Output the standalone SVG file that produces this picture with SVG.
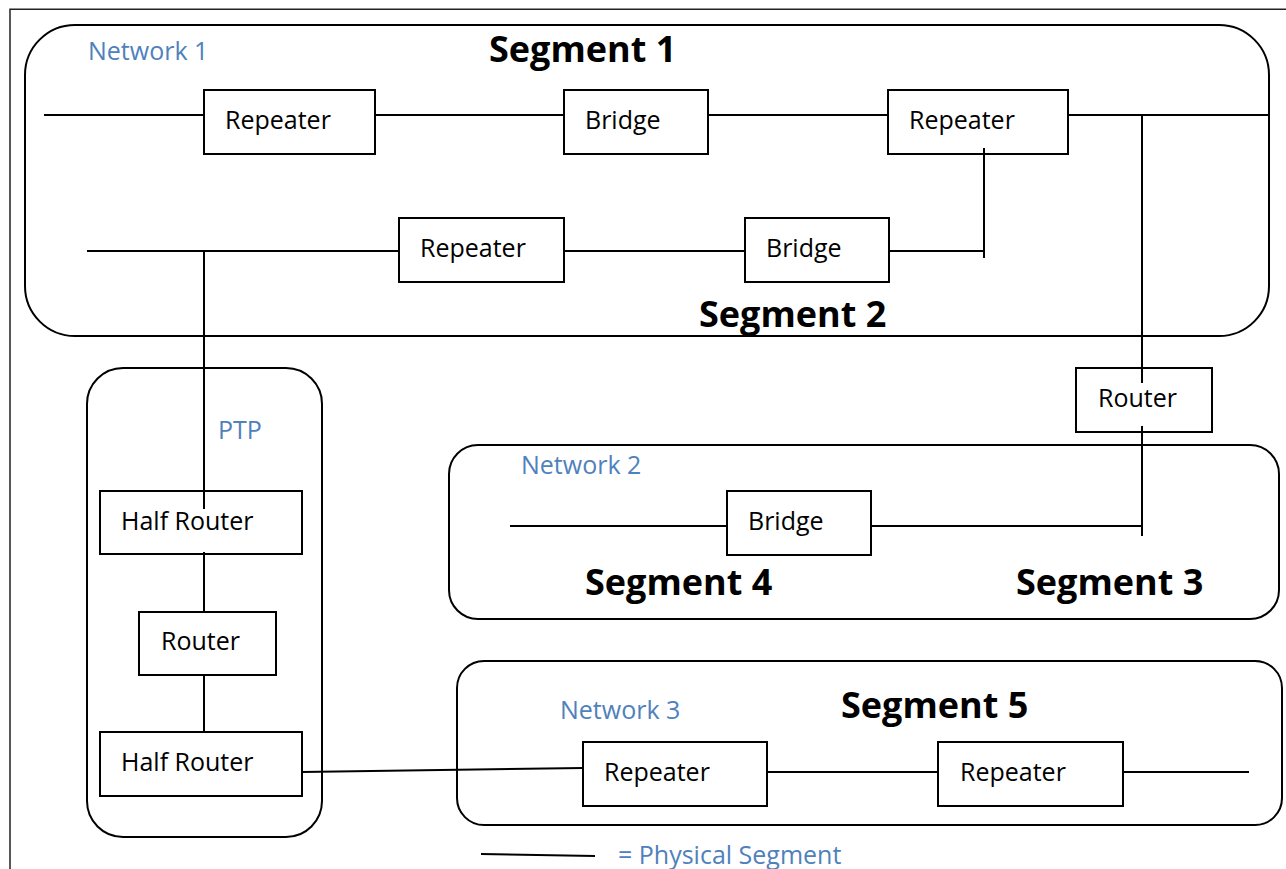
<svg xmlns="http://www.w3.org/2000/svg" width="1286" height="869" viewBox="0 0 1286 869">
  <style>
    .frame { fill: none; stroke: #222; stroke-width: 1.5; }
    .net { fill: none; stroke: #000; stroke-width: 2; }
    .box { fill: #fff; stroke: #000; stroke-width: 2; }
    .wire { fill: none; stroke: #000; stroke-width: 2; }
    .lbl { font-family: "Open Sans", "Liberation Sans", sans-serif; font-size: 25px; fill: #000; }
    .net-name { font-family: "Open Sans", "Liberation Sans", sans-serif; font-size: 25px; fill: #4F81BD; }
    .seg { font-family: "Open Sans", "Liberation Sans", sans-serif; font-size: 36px; font-weight: bold; fill: #000; }
  </style>
  <rect width="1286" height="869" fill="#fff"/>
  <!-- page border -->
  <path class="frame" d="M10,869 V9.3 H1286"/>

  <!-- network enclosures -->
  <g id="network1">
    <rect class="net" x="25" y="25" width="1244" height="311" rx="50" ry="50"/>
    <text class="net-name" x="88" y="60">Network 1</text>
    <text class="seg" x="489" y="62">Segment 1</text>
    <text class="seg" x="699" y="327">Segment 2</text>
  </g>
  <g id="ptp">
    <rect class="net" x="87" y="368" width="235" height="469" rx="36" ry="36"/>
    <text class="net-name" x="218" y="439">PTP</text>
  </g>
  <g id="network2">
    <rect class="net" x="449" y="445" width="830" height="174" rx="29" ry="29"/>
    <text class="net-name" x="521" y="474">Network 2</text>
    <text class="seg" x="585" y="595">Segment 4</text>
    <text class="seg" x="1016" y="595">Segment 3</text>
  </g>
  <g id="network3">
    <rect class="net" x="457" y="661" width="825" height="164" rx="27" ry="27"/>
    <text class="net-name" x="560" y="719">Network 3</text>
    <text class="seg" x="841" y="718">Segment 5</text>
  </g>

  <!-- devices -->
  <g id="repeater-1">
    <rect class="box" x="204" y="90" width="171" height="64"/>
    <text class="lbl" x="225" y="129">Repeater</text>
  </g>
  <g id="bridge-1">
    <rect class="box" x="564" y="90" width="144" height="64"/>
    <text class="lbl" x="585" y="129">Bridge</text>
  </g>
  <g id="repeater-2">
    <rect class="box" x="888" y="90" width="180" height="64"/>
    <text class="lbl" x="909" y="129">Repeater</text>
  </g>
  <g id="repeater-3">
    <rect class="box" x="399" y="218" width="165" height="64"/>
    <text class="lbl" x="420" y="257">Repeater</text>
  </g>
  <g id="bridge-2">
    <rect class="box" x="745" y="218" width="144" height="64"/>
    <text class="lbl" x="766" y="257">Bridge</text>
  </g>
  <g id="router-main">
    <rect class="box" x="1076" y="368" width="136" height="64"/>
    <text class="lbl" x="1098" y="407">Router</text>
  </g>
  <g id="half-router-1">
    <rect class="box" x="100" y="491" width="202" height="63"/>
    <text class="lbl" x="121" y="530">Half Router</text>
  </g>
  <g id="router-ptp">
    <rect class="box" x="139" y="612" width="137" height="63"/>
    <text class="lbl" x="161" y="650">Router</text>
  </g>
  <g id="half-router-2">
    <rect class="box" x="100" y="732" width="202" height="64"/>
    <text class="lbl" x="121" y="771">Half Router</text>
  </g>
  <g id="bridge-3">
    <rect class="box" x="727" y="491" width="144" height="64"/>
    <text class="lbl" x="748" y="530">Bridge</text>
  </g>
  <g id="repeater-4">
    <rect class="box" x="583" y="742" width="184" height="64"/>
    <text class="lbl" x="604" y="781">Repeater</text>
  </g>
  <g id="repeater-5">
    <rect class="box" x="938" y="742" width="185" height="64"/>
    <text class="lbl" x="960" y="781">Repeater</text>
  </g>

  <!-- physical segments (drawn over the boxes where they poke in) -->
  <g id="connectors">
    <path class="wire" d="M44,115 H204 M375,115 H564 M708,115 H888 M1068,115 H1269"/>
    <path class="wire" d="M1142,115 V383"/>
    <path class="wire" d="M984,148 V258 M889,251 H984"/>
    <path class="wire" d="M87,251 H399 M564,251 H745"/>
    <path class="wire" d="M204,251 V509"/>
    <path class="wire" d="M204,552 V612 M204,675 V732"/>
    <path class="wire" d="M302,772 L583,768"/>
    <path class="wire" d="M767,772 H938 M1122,772 H1249"/>
    <path class="wire" d="M1142,426 V536 M871,526 H1142"/>
    <path class="wire" d="M510,526 H727"/>
  </g>

  <!-- key -->
  <g id="legend">
    <path class="wire" d="M481,854 L595,856"/>
    <text class="net-name" x="618" y="864">= Physical Segment</text>
  </g>
</svg>
